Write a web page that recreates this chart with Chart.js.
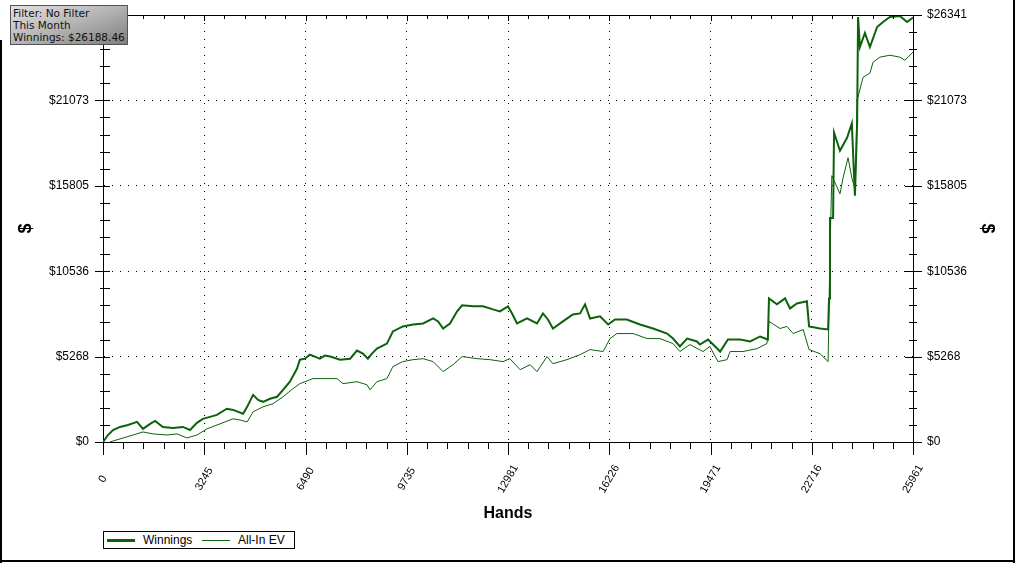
<!DOCTYPE html>
<html>
<head>
<meta charset="utf-8">
<script src="https://cdn.jsdelivr.net/npm/chart.js@4.4.0/dist/chart.umd.min.js"></script>
<style>
html, body { margin: 0; padding: 0; background: #fff; }
#wrap { position: relative; width: 1016px; height: 563px; }
#filterBox {
  position: absolute; left: 10px; top: 5px; width: 118px; height: 40px;
  box-sizing: border-box; border: 1px solid #555;
  background: linear-gradient(160deg, #e2e2e2 0%, #b4b4b4 50%, #7e7e7e 100%);
  font: 10.5px "DejaVu Sans", sans-serif; line-height: 12px; color: #111;
  padding: 1px 0 0 2px; white-space: nowrap;
}
#legend {
  position: absolute; left: 103px; top: 531px; width: 192px; height: 18px;
  box-sizing: border-box; border: 1px solid #000; background: #fff;
  font: 12px "Liberation Sans", Arial, sans-serif; color: #000;
}
#legend span { position: absolute; top: 1px; }
#legend i { position: absolute; background: #0b620b; width: 28px; }
</style>
</head>
<body>
<div id="wrap">
  <canvas id="handsGraph" width="1016" height="563"></canvas>
  <div id="filterBox">Filter: No Filter<br>This Month<br>Winnings: $26188.46</div>
  <div id="legend">
    <i style="left:3px;top:7px;height:3px"></i><span style="left:39px">Winnings</span>
    <i style="left:98px;top:8px;height:1px"></i><span style="left:134px">All-In EV</span>
  </div>
</div>
<script>
// hands / dollars
var winHands = [0,160,320,545,800,1090,1280,1510,1670,1920,2240,2560,2790,3010,3200,3430,3650,3970,4170,4490,4620,4810,4970,5130,5350,5580,5770,5990,6220,6310,6470,6630,6950,7110,7280,7600,7920,8140,8330,8490,8620,8780,9100,9290,9610,9940,10260,10580,10740,10900,11120,11350,11510,11860,12180,12500,12720,12980,13110,13270,13590,13910,14100,14260,14420,14740,15060,15290,15450,15610,15930,16190,16410,16790,17210,17630,18080,18270,18490,18720,19040,19130,19390,19620,19780,20030,20420,20740,21060,21310,21345,21600,21860,22020,22240,22560,22630,22980,23240,23270,23300,23400,23430,23620,23850,24000,24100,24170,24200,24260,24420,24580,24810,25000,25220,25540,25770,25961];
var winnings = [0,430,740,930,1050,1240,810,1120,1300,930,870,930,740,1180,1430,1550,1670,2050,1980,1740,2170,2910,2600,2480,2670,2790,3220,3720,4530,5080,5140,5390,5140,5330,5270,5080,5140,5640,5450,5140,5450,5760,6070,6820,7130,7250,7310,7620,7440,7000,7310,8060,8430,8370,8370,8180,8060,8370,7930,7310,7620,7310,7930,7560,7000,7440,7870,7930,8490,7620,7750,7250,7560,7560,7250,7000,6690,6380,5890,6380,6200,6010,6320,5890,5580,6320,6320,6200,6510,6320,8860,8490,8860,8240,8550,8680,7130,7000,6940,8860,13820,13820,19090,17970,18780,19650,15190,19650,26220,24360,25230,24360,25600,25910,26220,26280,25910,26188];

var evHands = [0,100,220,545,960,1280,1600,2050,2370,2690,3010,3330,3750,4170,4390,4620,4810,5130,5450,5770,6090,6310,6730,7180,7500,7690,8140,8460,8560,8780,9100,9290,9610,9940,10260,10580,10900,11220,11510,11990,12400,12820,13040,13370,13690,13910,14230,14420,14870,15290,15610,16030,16250,16470,16990,17440,17850,18270,18490,18810,19230,19450,19710,20000,20100,20510,20960,21280,21345,21700,21920,22120,22440,22630,22980,23240,23300,23360,23620,23720,23880,24000,24100,24130,24170,24360,24580,24680,24900,25220,25540,25700,25961];
var allInEv = [0,-250,0,190,430,620,500,430,500,250,430,810,1120,1430,1360,1240,1860,2170,2360,2790,3290,3600,3910,3910,3910,3600,3720,3530,3220,3720,3910,4650,4960,5080,5140,4960,4340,4770,5270,5140,5080,4960,5140,4460,4770,4340,5270,4830,5080,5390,5700,5580,6380,6690,6690,6380,6380,6070,5580,6010,5580,5890,4960,5080,5580,5580,5760,6070,7440,7000,7130,6690,6940,5700,5450,4960,11780,16430,15310,16300,17540,16300,15620,17350,21070,22500,22750,23430,23740,23860,23740,23550,24050];

var xTicks = [0, 3245.1, 6490.25, 9735.4, 12980.5, 16225.6, 19470.75, 22715.9, 25961];
var yTicks = [0, 5268.2, 10536.4, 15804.6, 21072.8, 26341];

var fam = '"Liberation Sans", Arial, sans-serif';
var green = '#0b620b';

function pts(xs, ys) {
  return xs.map(function (h, i) { return { x: h, y: ys[i] }; });
}
function edgeGrid(c) {
  return (c.index === 0 || c.index === c.scale.ticks.length - 1) ? 'rgba(0,0,0,0)' : '#000';
}

// minor ticks, crossing ticks, rotated hand labels, frame
var axisMarks = {
  id: 'axisMarks',
  afterDraw: function (chart) {
    var ctx = chart.ctx, a = chart.chartArea, x = chart.scales.x, y = chart.scales.y;
    function seg(x1, y1, x2, y2) { ctx.beginPath(); ctx.moveTo(x1, y1); ctx.lineTo(x2, y2); ctx.stroke(); }
    ctx.save();
    ctx.strokeStyle = '#000';
    ctx.lineWidth = 1;
    seg(a.left, Math.round(a.top) + 0.5, a.right, Math.round(a.top) + 0.5);
    for (var i = 0; i < yTicks.length; i++) {
      for (var k = 0; k < 5; k++) {
        if (k > 0 && i === yTicks.length - 1) break;
        var v = k === 0 ? yTicks[i] : yTicks[i] + (yTicks[i + 1] - yTicks[i]) * k / 5;
        var py = Math.round(y.getPixelForValue(v)) + 0.5;
        var big = k === 0;
        seg(a.left - (big ? 8 : 3), py, a.left + 7, py);
        seg(a.right - (big ? 8 : 4), py, a.right + (big ? 9 : 4), py);
      }
    }
    for (var j = 0; j < xTicks.length; j++) {
      for (var m = 0; m < 5; m++) {
        if (m > 0 && j === xTicks.length - 1) break;
        var w = m === 0 ? xTicks[j] : xTicks[j] + (xTicks[j + 1] - xTicks[j]) * m / 5;
        var px = Math.round(x.getPixelForValue(w)) + 0.5;
        var major = m === 0;
        seg(px, a.bottom, px, a.bottom + (major ? 13 : 7));
        seg(px, a.top, px, a.top + (major ? 6 : 4));
      }
    }
    ctx.fillStyle = '#000';
    ctx.font = '11px ' + fam;
    ctx.textAlign = 'center';
    ctx.textBaseline = 'middle';
    xTicks.forEach(function (t) {
      ctx.save();
      ctx.translate(x.getPixelForValue(t), 479);
      ctx.rotate(-Math.PI / 3);
      ctx.fillText(String(Math.round(t)), 0, 0);
      ctx.restore();
    });
    ctx.fillRect(0, 40, 2, 523);
    ctx.fillRect(1013, 0, 2, 563);
    ctx.fillRect(0, 560, 1015, 2);
    ctx.restore();
  }
};

var ctx = document.getElementById('handsGraph').getContext('2d');
var handsChart = new Chart(ctx, {
  type: 'line',
  data: {
    datasets: [
      { label: 'Winnings', data: pts(winHands, winnings), borderColor: green, borderWidth: 2,
        pointRadius: 0, tension: 0, fill: false, yAxisID: 'y' },
      { label: 'All-In EV', data: pts(evHands, allInEv), borderColor: green, borderWidth: 1,
        pointRadius: 0, tension: 0, fill: false, yAxisID: 'y' }
    ]
  },
  options: {
    responsive: false,
    devicePixelRatio: 1,
    animation: false,
    events: [],
    layout: { padding: { top: 15, left: 0, right: 0, bottom: 0 } },
    plugins: { legend: { display: false }, tooltip: { enabled: false } },
    scales: {
      x: {
        type: 'linear', position: 'bottom', min: 0, max: 25961,
        afterBuildTicks: function (s) { s.ticks = xTicks.map(function (v) { return { value: v }; }); },
        afterFit: function (s) { s.height = 121; },
        ticks: { display: false },
        grid: { color: edgeGrid, drawTicks: false, lineWidth: 1 },
        border: { display: true, color: '#000', width: 1, dash: [1, 7] },
        title: { display: true, text: 'Hands', color: '#000',
                 font: { family: fam, size: 16, weight: 'bold' }, padding: { top: 0, bottom: 40 } }
      },
      y: {
        type: 'linear', position: 'left', min: 0, max: 26341,
        afterBuildTicks: function (s) { s.ticks = yTicks.map(function (v) { return { value: v }; }); },
        afterFit: function (s) { s.width = 103; },
        ticks: { color: '#000', padding: 0, font: { family: fam, size: 12 },
                 callback: function (v) { return '$' + Math.round(v); } },
        grid: { color: edgeGrid, drawTicks: true, tickLength: 14, tickColor: 'rgba(0,0,0,0)', lineWidth: 1 },
        border: { display: true, color: '#000', width: 1, dash: [1, 7] },
        title: { display: true, text: '$', color: '#000',
                 font: { family: fam, size: 18, weight: 'bold' }, padding: { top: 15, bottom: 0 } }
      },
      y2: {
        type: 'linear', position: 'right', min: 0, max: 26341,
        afterBuildTicks: function (s) { s.ticks = yTicks.map(function (v) { return { value: v }; }); },
        afterFit: function (s) { s.width = 103; },
        ticks: { color: '#000', padding: 0, font: { family: fam, size: 12 },
                 callback: function (v) { return '$' + Math.round(v); } },
        grid: { drawOnChartArea: false, drawTicks: true, tickLength: 14, tickColor: 'rgba(0,0,0,0)' },
        border: { display: true, color: '#000', width: 1 },
        title: { display: true, text: '$', color: '#000',
                 font: { family: fam, size: 18, weight: 'bold' }, padding: { top: 18, bottom: 0 } }
      }
    }
  },
  plugins: [axisMarks]
});
</script>
</body>
</html>
